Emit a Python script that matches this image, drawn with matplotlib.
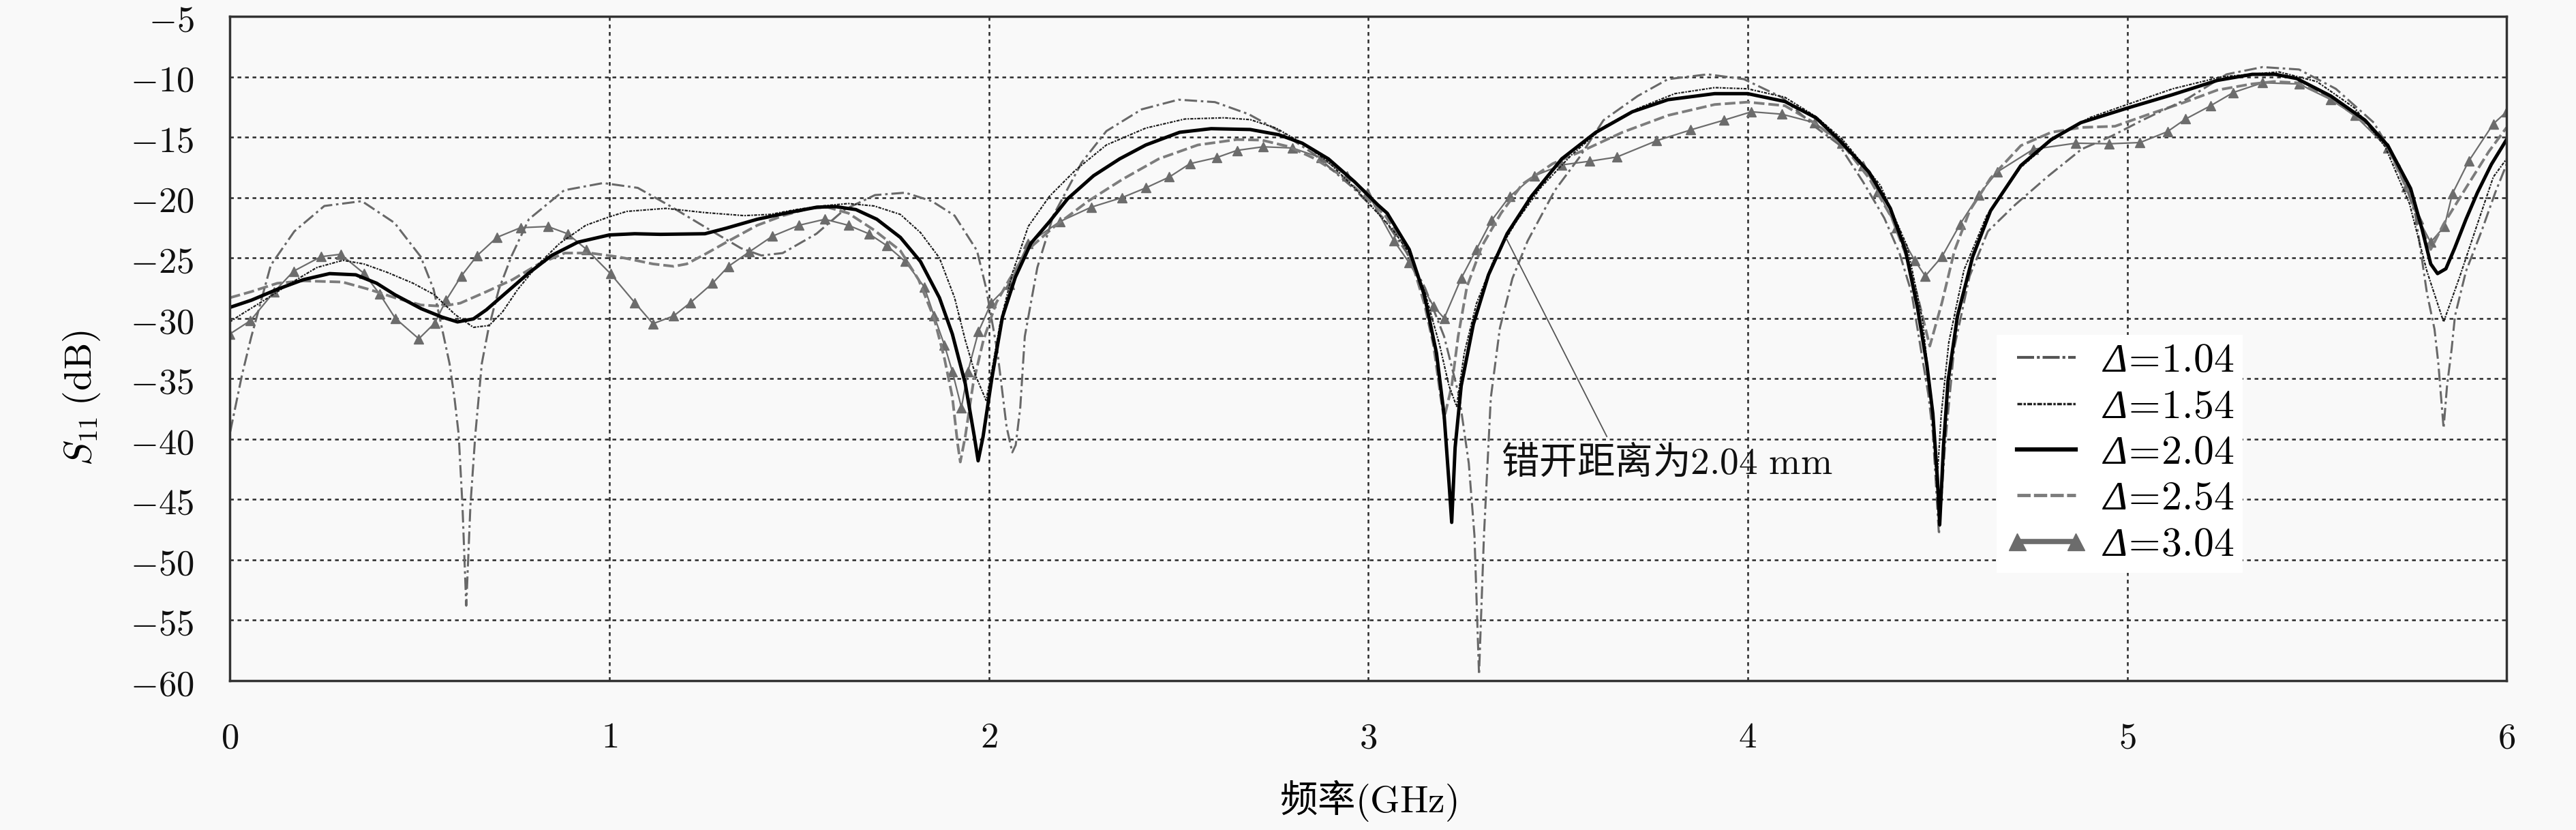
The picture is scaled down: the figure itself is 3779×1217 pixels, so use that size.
import numpy as np
import matplotlib
matplotlib.use("Agg")
import matplotlib.pyplot as plt
from matplotlib.lines import Line2D

plt.rcParams['font.family'] = ['Noto Sans CJK SC', 'DejaVu Sans']
plt.rcParams['mathtext.fontset'] = 'cm'

# ---------------- data ----------------
xticks = [0, 1, 2, 3, 4, 5, 6]
yticks = [-60, -55, -50, -45, -40, -35, -30, -25, -20, -15, -10, -5]
labels = ['1.04', '1.54', '2.04', '2.54', '3.04']

f_104 = [0.001, 0.032, 0.056, 0.108, 0.17, 0.249, 0.348, 0.434, 0.503, 0.537, 0.579, 0.592, 0.603, 0.613, 0.623,
         0.634, 0.647, 0.664, 0.682, 0.709, 0.743, 0.788, 0.881, 0.984, 1.075, 1.16, 1.25, 1.347, 1.401, 1.457,
         1.546, 1.62, 1.70, 1.78, 1.85, 1.91, 1.969, 1.993, 2.023, 2.047, 2.062, 2.071, 2.083, 2.095, 2.128, 2.17,
         2.245, 2.31, 2.403, 2.50, 2.596, 2.685, 2.76, 2.857, 2.96, 3.04, 3.10, 3.15, 3.20, 3.24, 3.265, 3.28,
         3.292, 3.305, 3.323, 3.347, 3.38, 3.42, 3.492, 3.556, 3.62, 3.71, 3.79, 3.895, 3.99, 4.09, 4.18, 4.24,
         4.304, 4.36, 4.40, 4.432, 4.476, 4.488, 4.504, 4.52, 4.544, 4.585, 4.633, 4.705, 4.793, 4.88, 4.96,
         5.04, 5.16, 5.262, 5.357, 5.453, 5.55, 5.65, 5.72, 5.76, 5.79, 5.81, 5.82, 5.834, 5.843, 5.855, 5.864,
         5.893, 5.935, 5.97, 6.0]
s_104 = [-39.4, -34.7, -31.6, -25.6, -22.8, -20.7, -20.3, -22.1, -24.9, -27.6, -33.75, -36.6, -39.6, -45.5, -53.8,
         -45.5, -39.6, -33.75, -30.8, -27.6, -24.8, -21.8, -19.4, -18.8, -19.2, -20.7, -22.4, -24.2, -24.8, -24.6,
         -23.0, -21.0, -19.8, -19.6, -20.3, -21.5, -24.4, -27.5, -32.8, -39.0, -41.1, -40.5, -37.4, -31.5, -25.8, -21.5,
         -17.1, -14.5, -12.7, -11.9, -12.1, -13.1, -14.4, -16.4, -19.2, -21.7, -24.5, -27.5, -31.5, -36.5, -42.0, -48.0,
         -59.5, -48.0, -36.6, -30.8, -26.7, -23.6, -19.4, -16.7, -13.6, -11.6, -10.2, -9.8, -10.2, -11.7, -14.2, -15.6,
         -18.7, -21.7, -24.6, -27.9, -36.3, -39.5, -47.9, -40.6, -32.5, -26.5, -22.8, -20.6, -18.2, -16.0, -14.9,
         -13.6, -11.8, -9.8, -9.2, -9.4, -11.0, -13.8, -17.5, -21.5, -27.9, -30.9, -33.7, -39.1, -35.6, -32.6, -29.8,
         -26.1, -22.7, -19.6, -17.25]

f_154 = [0.0, 0.029, 0.091, 0.16, 0.229, 0.298, 0.353, 0.415, 0.483, 0.539, 0.594, 0.642, 0.683, 0.718, 0.759,
         0.814, 0.869, 0.938, 1.0, 1.046, 1.149, 1.252, 1.355, 1.424, 1.492, 1.56, 1.63, 1.698, 1.767, 1.82, 1.87,
         1.91, 1.938, 1.966, 1.993, 2.01, 2.03, 2.063, 2.104, 2.16, 2.228, 2.31, 2.414, 2.517, 2.62, 2.689, 2.757,
         2.826, 2.895, 2.964, 3.025, 3.068, 3.108, 3.148, 3.188, 3.213, 3.233, 3.253, 3.285, 3.333, 3.39, 3.454,
         3.535, 3.623, 3.712, 3.808, 3.913, 4.0, 4.098, 4.18, 4.25, 4.35, 4.42, 4.46, 4.488, 4.498, 4.51, 4.53,
         4.57, 4.63, 4.72, 4.80, 4.90, 5.0, 5.12, 5.25, 5.40, 5.50, 5.60, 5.68, 5.744, 5.79, 5.834, 5.876, 5.923,
         5.965, 6.0]
s_154 = [-30.3, -29.7, -28.5, -27.1, -25.8, -25.2, -25.5, -26.2, -27.1, -28.05, -29.7, -30.75, -30.6, -29.5, -27.6,
         -25.5, -23.8, -22.3, -21.6, -21.15, -20.9, -21.25, -21.5, -21.4, -21.0, -20.7, -20.5, -20.7, -21.4, -22.9, -25.0,
         -28.3, -31.8, -34.8, -36.8, -34.0, -30.4, -26.2, -22.4, -19.9, -17.75, -15.65, -14.25, -13.5, -13.4, -13.55, -14.25,
         -15.5, -17.05, -19.2, -21.3, -22.8, -24.6, -27.7, -32.2, -35.6, -37.3, -32.9, -28.8, -25.0, -22.0, -19.2,
         -16.5, -14.1, -12.6, -11.4, -10.9, -11.0, -11.7, -13.3, -15.2, -19.0, -24.0, -30.0, -38.0, -44.0, -38.0, -32.0,
         -26.0, -21.5, -17.5, -15.3, -13.4, -12.3, -11.0, -10.0, -9.6, -10.4, -12.6, -15.8, -20.5, -26.1, -30.3, -26.6, -22.2,
         -18.3, -16.8]

f_204 = [0.0, 0.057, 0.125, 0.194, 0.263, 0.332, 0.387, 0.435, 0.504, 0.559, 0.60, 0.642, 0.676, 0.731, 0.786,
         0.848, 0.917, 1.0, 1.067, 1.135, 1.252, 1.307, 1.39, 1.472, 1.547, 1.595, 1.65, 1.705, 1.767, 1.82, 1.87,
         1.904, 1.938, 1.962, 1.972, 1.985, 2.008, 2.036, 2.07, 2.111, 2.16, 2.208, 2.276, 2.345, 2.414, 2.503,
         2.586, 2.689, 2.764, 2.826, 2.895, 2.964, 3.025, 3.05, 3.108, 3.148, 3.18, 3.20, 3.214, 3.22, 3.229, 3.245,
         3.277, 3.317, 3.366, 3.43, 3.51, 3.60, 3.696, 3.79, 3.913, 4.0, 4.098, 4.18, 4.24, 4.32, 4.376, 4.416,
         4.448, 4.472, 4.488, 4.50, 4.506, 4.516, 4.528, 4.553, 4.593, 4.64, 4.72, 4.80, 4.878, 5.0, 5.118, 5.238,
         5.33, 5.39, 5.447, 5.537, 5.627, 5.687, 5.747, 5.777, 5.80, 5.818, 5.84, 5.863, 5.893, 5.923, 5.96, 6.0]
s_204 = [-29.1, -28.5, -27.6, -26.8, -26.3, -26.4, -27.1, -28.05, -29.2, -29.9, -30.3, -30.05, -29.3, -27.8, -26.3,
         -24.8, -23.7, -23.1, -23.0, -23.05, -23.0, -22.55, -21.8, -21.25, -20.8, -20.75, -21.0, -21.8, -23.3, -25.3, -28.3,
         -31.3, -35.4, -39.8, -41.8, -39.8, -35.0, -29.9, -26.6, -23.8, -22.0, -20.1, -18.2, -16.8, -15.65, -14.6,
         -14.3, -14.37, -14.8, -15.5, -16.8, -18.7, -20.6, -21.3, -24.3, -28.1, -32.9, -38.0, -44.1, -46.9, -40.7, -35.6,
         -30.5, -26.4, -23.0, -19.9, -16.8, -14.6, -12.9, -11.9, -11.4, -11.4, -12.05, -13.4, -15.2, -17.9, -20.9, -24.4,
         -29.2, -33.8, -37.9, -43.3, -47.1, -40.6, -35.2, -29.8, -24.9, -21.1, -17.35, -15.2, -13.8, -12.6, -11.5, -10.3,
         -9.8, -9.8, -10.15, -11.6, -13.6, -15.7, -19.25, -22.6, -25.5, -26.3, -25.9, -24.2, -21.8, -19.6, -17.25, -15.2]

f_254 = [0.0, 0.056, 0.125, 0.194, 0.297, 0.366, 0.435, 0.504, 0.559, 0.607, 0.676, 0.745, 0.814, 0.883, 0.95,
         1.02, 1.046, 1.115, 1.17, 1.204, 1.252, 1.32, 1.39, 1.458, 1.527, 1.575, 1.63, 1.698, 1.767, 1.815, 1.856,
         1.883, 1.904, 1.918, 1.925, 1.938, 1.959, 1.986, 2.02, 2.054, 2.104, 2.173, 2.262, 2.352, 2.448, 2.551,
         2.654, 2.72, 2.792, 2.86, 2.93, 2.998, 3.045, 3.108, 3.148, 3.172, 3.19, 3.20, 3.22, 3.237, 3.26, 3.30,
         3.35, 3.406, 3.486, 3.567, 3.67, 3.79, 3.913, 4.0, 4.098, 4.18, 4.25, 4.32, 4.38, 4.42, 4.45, 4.48, 4.512,
         4.545, 4.585, 4.64, 4.72, 4.80, 4.88, 4.968, 5.058, 5.148, 5.238, 5.328, 5.387, 5.447, 5.537, 5.627, 5.687,
         5.74, 5.78, 5.80, 5.834, 5.893, 5.953, 6.0]
s_254 = [-28.3, -27.8, -27.1, -26.9, -27.0, -27.6, -28.3, -28.9, -29.0, -28.75, -27.8, -26.8, -25.5, -24.6, -24.6,
         -24.9, -25.05, -25.5, -25.7, -25.5, -24.7, -23.5, -22.3, -21.5, -20.9, -20.8, -21.3, -22.7, -24.4, -26.8, -30.0,
         -33.3, -36.5, -40.4, -41.9, -39.8, -35.4, -31.8, -28.7, -26.8, -24.3, -22.4, -20.3, -18.5, -16.8, -15.65,
         -15.2, -15.25, -15.8, -16.8, -18.2, -20.1, -21.5, -24.6, -28.8, -32.2, -36.3, -38.3, -35.6, -31.5, -27.4, -24.0,
         -21.3, -18.9, -17.2, -16.1, -14.6, -13.2, -12.3, -12.1, -12.4, -13.9, -15.6, -18.4, -21.7, -25.0, -28.5, -32.3, -28.7,
         -24.4, -21.1, -18.4, -15.7, -14.6, -14.2, -14.1, -13.1, -12.15, -11.1, -10.6, -10.4, -10.5, -11.8, -13.8, -15.9,
         -19.5, -22.8, -24.3, -22.2, -19.2, -16.2, -14.2]

f_304 = [0.0, 0.054, 0.117, 0.168, 0.24, 0.292, 0.354, 0.395, 0.436, 0.498, 0.54, 0.57, 0.61, 0.652, 0.704,
         0.766, 0.838, 0.89, 0.94, 1.003, 1.067, 1.115, 1.17, 1.214, 1.272, 1.314, 1.369, 1.43, 1.50, 1.568, 1.63,
         1.684, 1.732, 1.78, 1.83, 1.856, 1.883, 1.904, 1.928, 1.945, 1.973, 2.007, 2.054, 2.104, 2.187, 2.27, 2.352,
         2.414, 2.476, 2.53, 2.60, 2.654, 2.723, 2.80, 2.875, 2.944, 2.998, 3.068, 3.108, 3.172, 3.20, 3.245, 3.285,
         3.325, 3.373, 3.438, 3.51, 3.583, 3.655, 3.76, 3.85, 3.937, 4.01, 4.09, 4.176, 4.248, 4.304, 4.344, 4.392,
         4.44, 4.468, 4.512, 4.56, 4.609, 4.657, 4.753, 4.865, 4.953, 5.034, 5.106, 5.154, 5.22, 5.28, 5.357, 5.453,
         5.537, 5.60, 5.687, 5.735, 5.768, 5.80, 5.836, 5.857, 5.90, 5.965, 6.0]
s_304 = [-31.3, -30.2, -27.8, -26.1, -24.9, -24.7, -26.3, -28.0, -30.0, -31.7, -30.4, -28.5, -26.5, -24.8, -23.3,
         -22.5, -22.4, -23.0, -24.3, -26.3, -28.7, -30.45, -29.8, -28.7, -27.1, -25.7, -24.5, -23.2, -22.3, -21.8, -22.3,
         -23.0, -24.0, -25.3, -27.4, -29.8, -32.2, -34.4, -37.4, -34.4, -31.1, -28.7, -27.2, -23.8, -22.0, -20.8, -20.0,
         -19.2, -18.3, -17.2, -16.7, -16.1, -15.8, -15.9, -16.7, -18.2, -19.6, -23.6, -25.4, -29.0, -30.0, -26.7, -24.3,
         -21.9, -19.9, -18.2, -17.3, -17.0, -16.65, -15.3, -14.4, -13.6, -12.9, -13.1, -13.8, -15.5, -17.35, -19.5, -22.5,
         -25.2, -26.5, -24.9, -22.2, -19.8, -17.9, -16.0, -15.5, -15.55, -15.45, -14.55, -13.5, -12.4, -11.3, -10.5, -10.6,
         -11.9, -13.2, -15.9, -19.1, -21.8, -23.7, -22.4, -19.7, -17.0, -13.9, -12.9]

annot_text = '错开距离为$\\mathrm{2.04\\ mm}$'
annot_xy = (3.364, -23.4)
annot_text_xy = (3.35, -42.0)

# ---------------- figure ----------------
bg = '#f9f9f9'
fig = plt.figure(figsize=(37.8, 12.17), dpi=100, facecolor=bg)
ax = fig.add_axes([0.0892, 0.1800, 0.8836, 0.8003], facecolor=bg)

styles = {
    '1.04': dict(color='#686868', lw=2.2, dashes=(6, 1.8, 1.2, 1.8), zorder=4),
    '1.54': dict(color='#1e1e1e', lw=1.6, dashes=(2, 0.8, 1, 0.8), zorder=5),
    '2.04': dict(color='#000000', lw=3.6, zorder=6),
    '2.54': dict(color='#7c7c7c', lw=2.8, dashes=(4, 1.5), zorder=3),
    '3.04': dict(color='#6c6c6c', lw=1.6, marker='^', ms=9.5, zorder=2),
}
series = {'1.04': (f_104, s_104), '1.54': (f_154, s_154), '2.04': (f_204, s_204),
          '2.54': (f_254, s_254), '3.04': (f_304, s_304)}

for lab in labels:
    f, s = series[lab]
    ax.plot(f, s, solid_capstyle='round', **styles[lab])

ax.set_xlim(0, 6)
ax.set_ylim(-60, -5)
ax.set_xticks(xticks)
ax.set_xticklabels([f'${v}$' for v in xticks])
ax.set_yticks(yticks)
ax.set_yticklabels([f'${v}$' for v in yticks])
ax.tick_params(axis='both', length=0, labelsize=38, colors='#111111')
ax.tick_params(axis='y', pad=38)
ax.tick_params(axis='x', pad=40)

ax.grid(True, color='#2a2a2a', lw=1.8, linestyle=(0, (2.2, 2.2)))
ax.set_axisbelow(True)
for sp in ax.spines.values():
    sp.set_color('#333333')
    sp.set_linewidth(2.5)
    sp.set_zorder(10)

ax.set_xlabel('频率$\\mathrm{(GHz)}$', fontsize=40)
ax.xaxis.set_label_coords(0.500, -0.181)
ax.xaxis.label.set_va('center')
ax.set_ylabel('$S_{11}$ $\\mathrm{(dB)}$', fontsize=40)
ax.yaxis.set_label_coords(-0.065, 0.425)
ax.yaxis.label.set_va('center')

ax.annotate(annot_text, xy=annot_xy, xytext=annot_text_xy, fontsize=40,
            ha='left', va='center', color='#111111', zorder=12,
            arrowprops=dict(arrowstyle='-', color='#555555', lw=1.3,
                            shrinkA=6, shrinkB=0, relpos=(0.33, 1.0)))

handles = [
    Line2D([], [], color='#555555', lw=3.0, dashes=(6, 1, 1, 1)),
    Line2D([], [], color='#222222', lw=2.5, dashes=(2, 0.6, 1, 0.6)),
    Line2D([], [], color='#000000', lw=4.5),
    Line2D([], [], color='#7c7c7c', lw=3.5, dashes=(4, 1)),
    Line2D([], [], color='#6c6c6c', lw=5.5, marker='^', ms=18),
]
leg_labels = [f'Δ$\\!{{=}}\\!{v}$' for v in labels]
leg = ax.legend(handles, leg_labels, loc='upper left', bbox_to_anchor=(0.776, 0.520),
                fontsize=43, frameon=True, facecolor='white', edgecolor='none', framealpha=1.0,
                handlelength=2.05, handletextpad=0.35, labelspacing=0.21, borderpad=0.2,
                borderaxespad=0.0, numpoints=2, fancybox=False)
for t in leg.get_texts():
    t.set_fontfamily(['Liberation Serif', 'DejaVu Serif'])
    t.set_fontstyle('italic')
leg.set_zorder(20)

fig.savefig('out.png', dpi=100, facecolor=bg)
